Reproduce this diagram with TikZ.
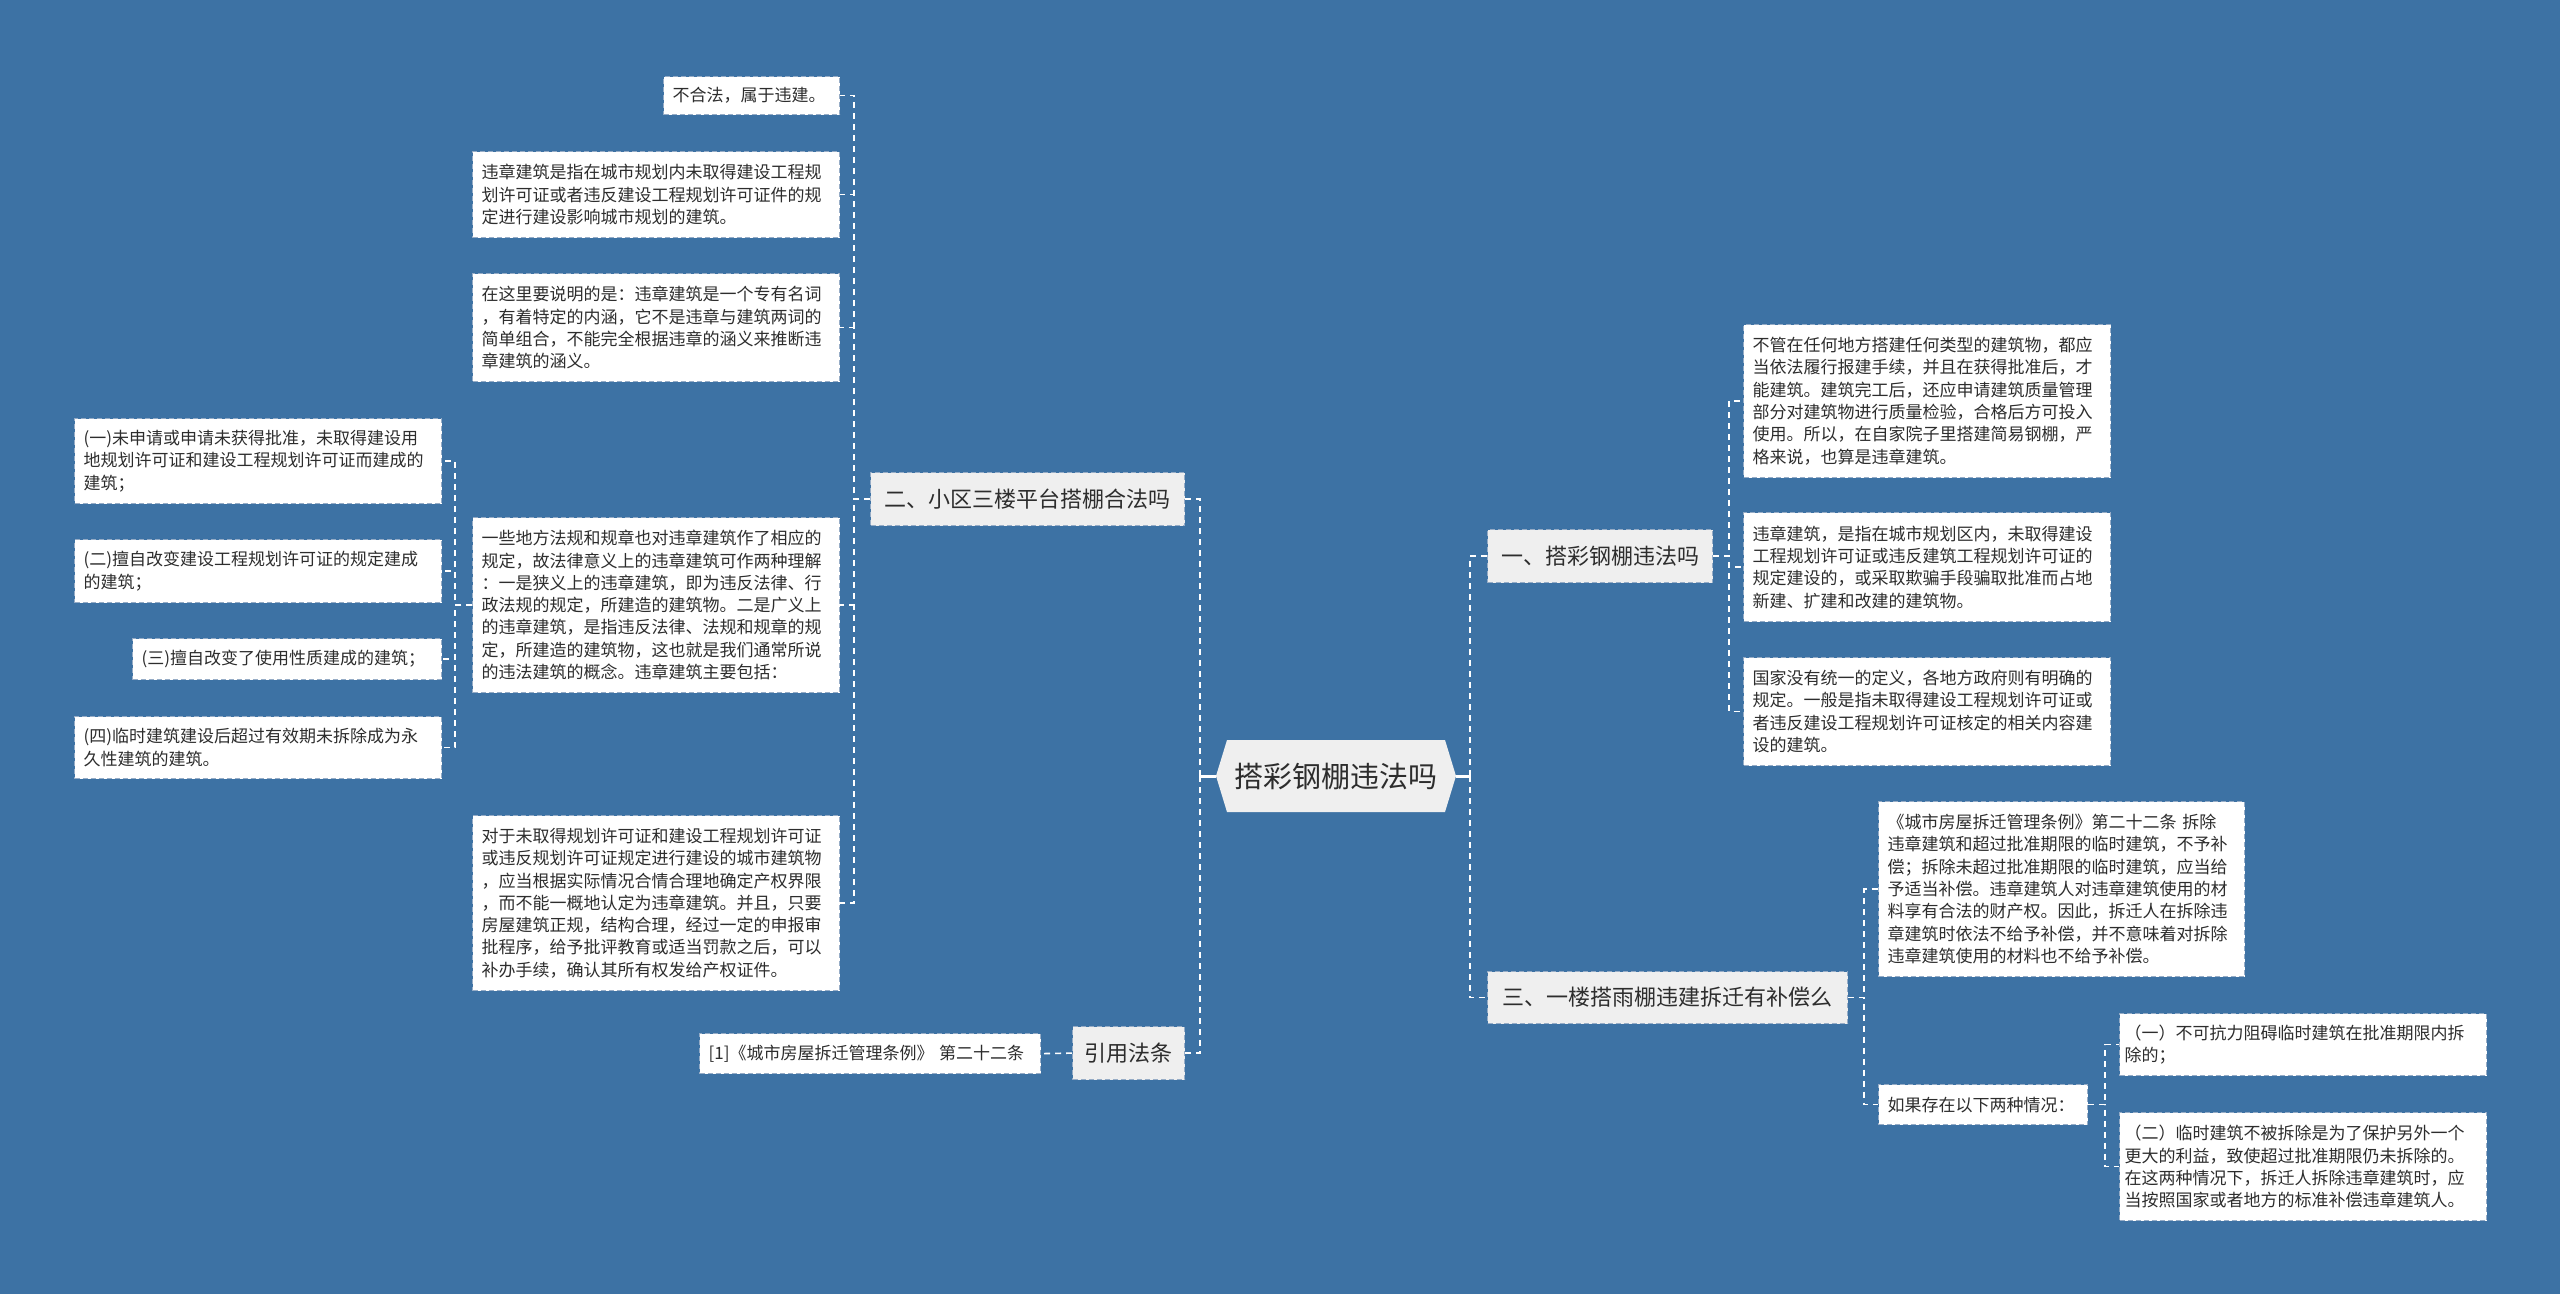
\documentclass[tikz,border=0pt]{standalone}
\usepackage{fontspec}
\setmainfont{Noto Sans CJK SC}

\definecolor{bg}{RGB}{61,114,164}
\definecolor{ink}{RGB}{45,45,45}
\definecolor{rim}{RGB}{150,172,198}
\definecolor{pale}{RGB}{239,239,239}

\tikzset{
	leaf/.style={draw=rim, dash pattern=on 5pt off 3pt, line width=1.2pt, fill=white,
		text=ink, inner xsep=9pt, inner ysep=0pt, align=left, anchor=north west,
		font=\fontsize{17}{22.3}\selectfont},
	topic/.style={draw=rim, dash pattern=on 5pt off 3pt, line width=1.2pt, fill=pale,
		text=ink, inner sep=0pt, anchor=north west, font=\fontsize{22}{26}\selectfont},
	link/.style={white, line width=1.6pt, dash pattern=on 6pt off 5pt},
	stub/.style={white, line width=3pt},
}

\begin{document}
\begin{tikzpicture}[x=1pt, y=-1pt]
	\useasboundingbox (0,0) rectangle (2560,1294);
	\fill [bg] (0,0) rectangle (2560,1294);

	\coordinate (c) at (1336,776);
	\coordinate (tipl) at (1216,776);
	\coordinate (tipr) at (1456,776);
	\coordinate (jl) at (1200,776);
	\coordinate (jr) at (1470,776);

	% root
	\fill [pale] (tipl) -- (1227,740) -- (1445,740) -- (tipr)
		-- (1445,812) -- (1227,812) -- cycle;
	\node [text=ink, font=\fontsize{29}{34}\selectfont] (root) at (c) {搭彩钢棚违法吗};

	% left branch
	\node [topic, minimum width=314pt, minimum height=53pt] (two) at (870,472)
		{二、小区三楼平台搭棚合法吗};
	\node [topic, minimum width=112pt, minimum height=53pt] (cite) at (1072,1026)
		{引用法条};

	\node [leaf, text width=158pt, minimum height=38pt] (notlegal) at (663,76)
		{不合法，属于违建。};
	\node [leaf, text width=349pt, minimum height=86pt] (def) at (472,151)
		{违章建筑是指在城市规划内未取得建设工程规\\划许可证或者违反建设工程规划许可证件的规\\定进行建设影响城市规划的建筑。};
	\node [leaf, text width=349pt, minimum height=108pt] (note) at (472,273)
		{在这里要说明的是：违章建筑是一个专有名词\\，有着特定的内涵，它不是违章与建筑两词的\\简单组合，不能完全根据违章的涵义来推断违\\章建筑的涵义。};
	\node [leaf, text width=349pt, minimum height=175pt] (local) at (472,517)
		{一些地方法规和规章也对违章建筑作了相应的\\规定，故法律意义上的违章建筑可作两种理解\\：一是狭义上的违章建筑，即为违反法律、行\\政法规的规定，所建造的建筑物。二是广义上\\的违章建筑，是指违反法律、法规和规章的规\\定，所建造的建筑物，这也就是我们通常所说\\的违法建筑的概念。违章建筑主要包括：};
	\node [leaf, text width=349pt, minimum height=175pt] (handle) at (472,815)
		{对于未取得规划许可证和建设工程规划许可证\\或违反规划许可证规定进行建设的城市建筑物\\，应当根据实际情况合情合理地确定产权界限\\，而不能一概地认定为违章建筑。并且，只要\\房屋建筑正规，结构合理，经过一定的申报审\\批程序，给予批评教育或适当罚款之后，可以\\补办手续，确认其所有权发给产权证件。};

	\node [leaf, text width=349pt, minimum height=85pt] (kind1) at (74,418)
		{(一)未申请或申请未获得批准，未取得建设用\\地规划许可证和建设工程规划许可证而建成的\\建筑；};
	\node [leaf, text width=349pt, minimum height=63pt] (kind2) at (74,539)
		{(二)擅自改变建设工程规划许可证的规定建成\\的建筑；};
	\node [leaf, text width=291pt, minimum height=41pt] (kind3) at (132,638)
		{(三)擅自改变了使用性质建成的建筑；};
	\node [leaf, text width=349pt, minimum height=62pt] (kind4) at (74,716)
		{(四)临时建筑建设后超过有效期未拆除成为永\\久性建筑的建筑。};

	\node [leaf, text width=323pt, minimum height=40pt] (ref) at (699,1033)
		{[1]《城市房屋拆迁管理条例》 第二十二条};

	% right branch
	\node [topic, minimum width=225pt, minimum height=53pt] (one) at (1487,529)
		{一、搭彩钢棚违法吗};
	\node [topic, minimum width=360pt, minimum height=52pt] (three) at (1487,971)
		{三、一楼搭雨棚违建拆迁有补偿么};

	\node [leaf, text width=349pt, minimum height=153pt] (always) at (1743,324)
		{不管在任何地方搭建任何类型的建筑物，都应\\当依法履行报建手续，并且在获得批准后，才\\能建筑。建筑完工后，还应申请建筑质量管理\\部分对建筑物进行质量检验，合格后方可投入\\使用。所以，在自家院子里搭建简易钢棚，严\\格来说，也算是违章建筑。};
	\node [leaf, text width=349pt, minimum height=109pt] (meaning) at (1743,512)
		{违章建筑，是指在城市规划区内，未取得建设\\工程规划许可证或违反建筑工程规划许可证的\\规定建设的，或采取欺骗手段骗取批准而占地\\新建、扩建和改建的建筑物。};
	\node [leaf, text width=349pt, minimum height=108pt] (national) at (1743,657)
		{国家没有统一的定义，各地方政府则有明确的\\规定。一般是指未取得建设工程规划许可证或\\者违反建设工程规划许可证核定的相关内容建\\设的建筑。};

	\node [leaf, text width=348pt, minimum height=175pt] (article) at (1878,801)
		{《城市房屋拆迁管理条例》第二十二条 拆除\\违章建筑和超过批准期限的临时建筑，不予补\\偿；拆除未超过批准期限的临时建筑，应当给\\予适当补偿。违章建筑人对违章建筑使用的材\\料享有合法的财产权。因此，拆迁人在拆除违\\章建筑时依法不给予补偿，并不意味着对拆除\\违章建筑使用的材料也不给予补偿。};
	\node [leaf, text width=191pt, minimum height=40pt] (cases) at (1878,1084)
		{如果存在以下两种情况：};
	\node [leaf, inner xsep=5pt, text width=357pt, minimum height=62pt] (case1) at (2119,1013)
		{（一）不可抗力阻碍临时建筑在批准期限内拆\\除的；};
	\node [leaf, inner xsep=5pt, text width=357pt, minimum height=108pt] (case2) at (2119,1112)
		{（二）临时建筑不被拆除是为了保护另外一个\\更大的利益，致使超过批准期限仍未拆除的。\\在这两种情况下，拆迁人拆除违章建筑时，应\\当按照国家或者地方的标准补偿违章建筑人。};

	% connectors
	\draw [stub] (tipl) -- (jl);
	\draw [stub] (tipr) -- (jr);
	\foreach \n in {two,cite}
		\draw [link] (jl) |- (\n.east);
	\foreach \n in {one,three}
		\draw [link] (jr) |- (\n.west);

	\foreach \n in {notlegal,def,note,local,handle}
		\draw [link] (two.west) -- ++(-16,0) |- (\n.east);
	\foreach \n in {kind1,kind2,kind3,kind4}
		\draw [link] (local.west) -- ++(-17,0) |- (\n.east);
	\draw [link] (cite.west) -- (ref.east);

	\foreach \n in {always,meaning,national}
		\draw [link] (one.east) -- ++(16,0) |- (\n.west);
	\foreach \n in {article,cases}
		\draw [link] (three.east) -- ++(16,0) |- (\n.west);
	\foreach \n in {case1,case2}
		\draw [link] (cases.east) -- ++(17,0) |- (\n.west);
\end{tikzpicture}
\end{document}
